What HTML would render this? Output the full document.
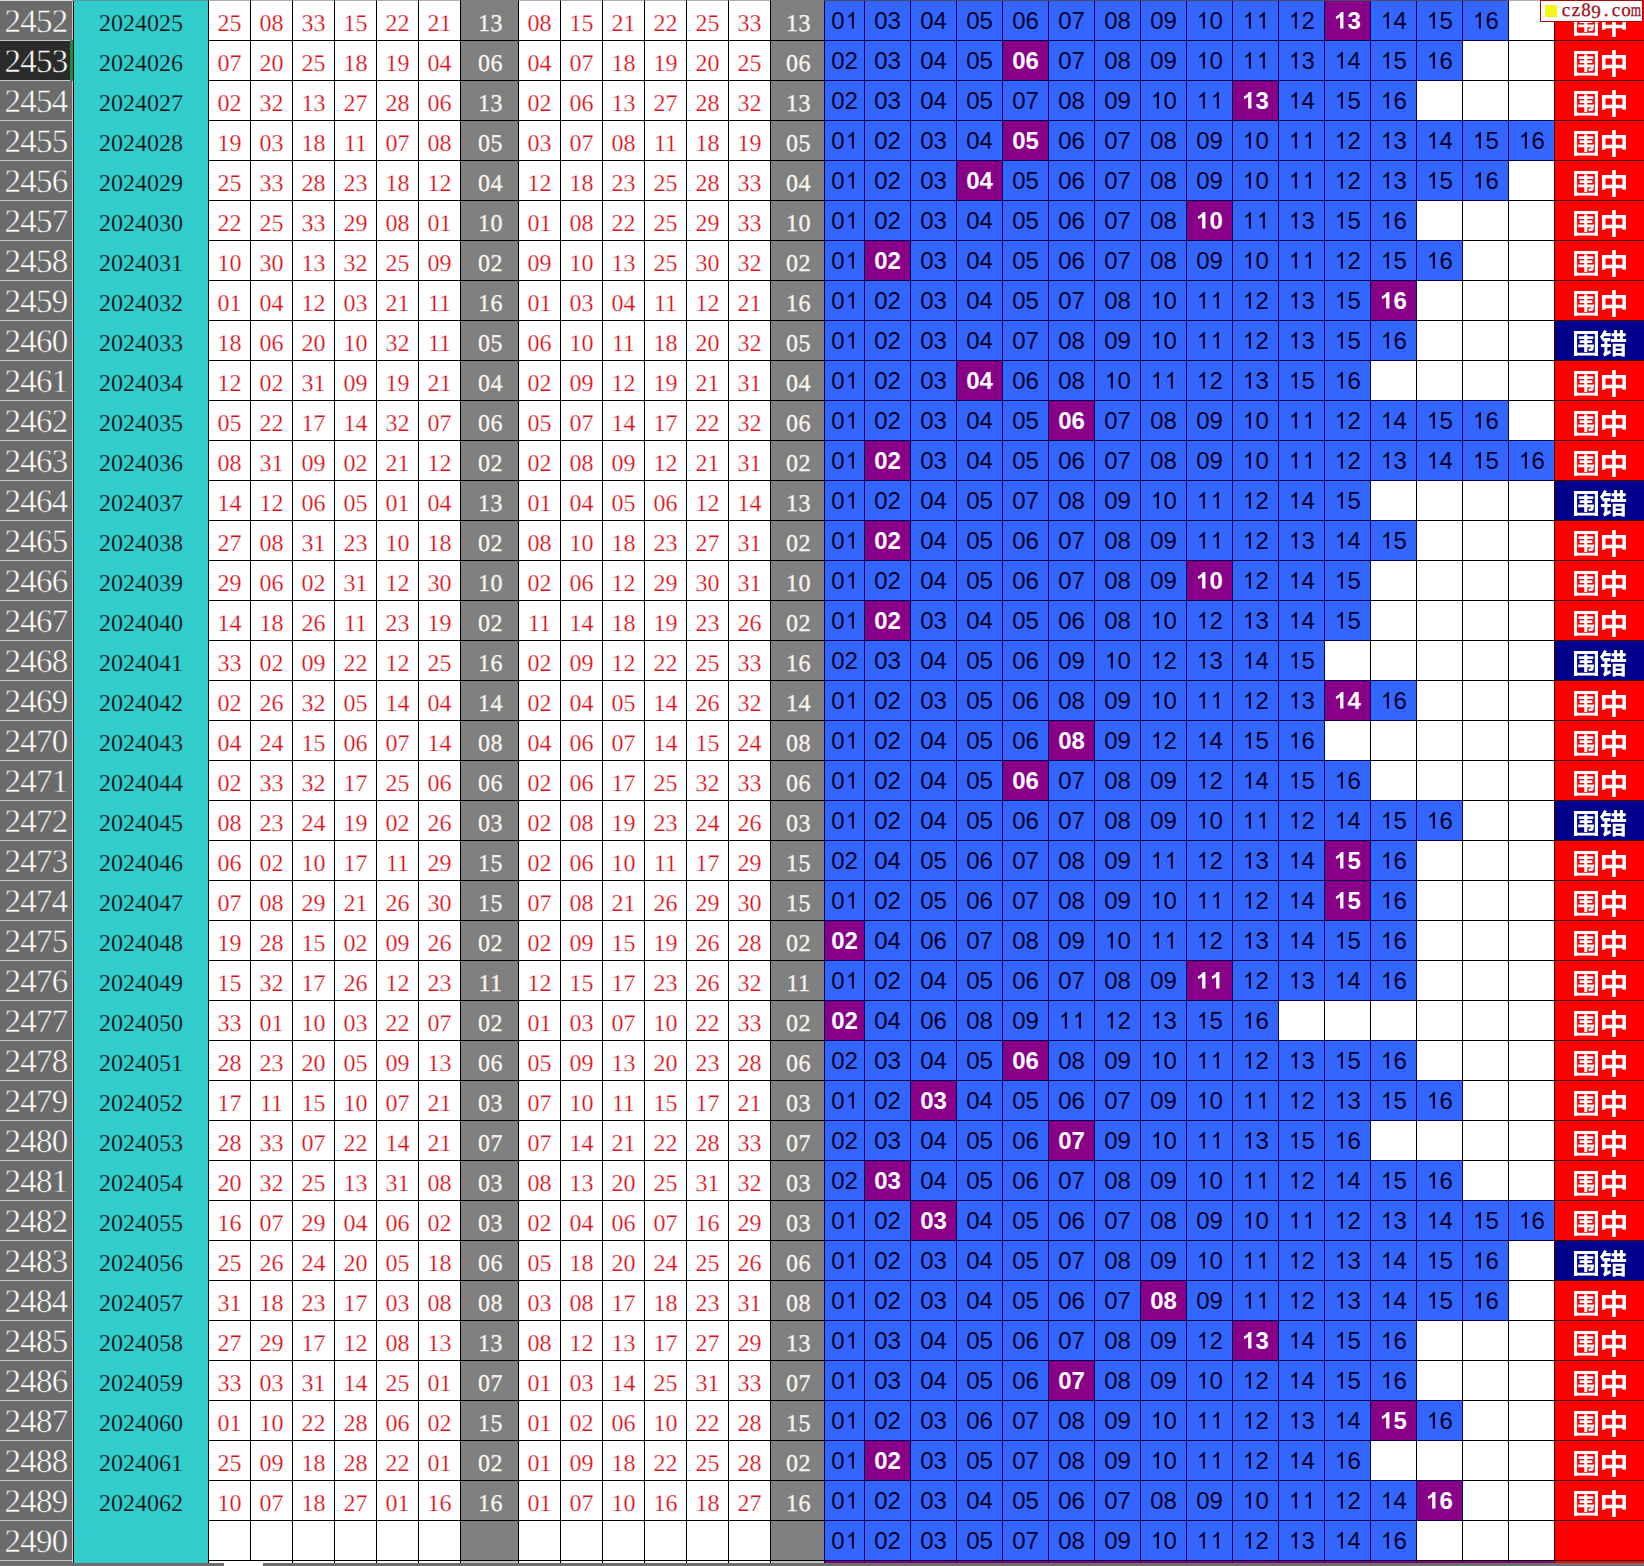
<!DOCTYPE html><html><head><meta charset="utf-8"><title>sheet</title><style>
*{margin:0;padding:0;box-sizing:border-box}
html,body{width:1644px;height:1566px;overflow:hidden;background:#fff}
#s{position:relative;width:1644px;height:1566px;overflow:hidden;background:#fff;font-family:"Liberation Serif",serif}
#s div,#s i,#s b,#s svg{position:absolute}
i,b{font-style:normal;font-weight:normal;display:block;text-align:center;white-space:nowrap;top:0;height:40px}
.r{left:0;width:1644px;height:40px}
.h{left:0;width:72px;height:40px;background:#6b6b6b;border-top:1px solid #c6c6c6;color:#fff;font-size:33px;line-height:43.6px;text-align:center;letter-spacing:-.7px;-webkit-text-stroke:.5px #6b6b6b}
.h u{display:block;text-decoration:none}
.h.sel{background:#2a2a2a;-webkit-text-stroke-color:#2a2a2a}
.h,.y,.n,.g{text-rendering:geometricPrecision}
.y{left:74px;width:134px;color:#000a0a;-webkit-text-stroke:.25px #33cccc;font-size:24px;line-height:48px}
.n{width:41px;color:#e00c16;-webkit-text-stroke:.22px #fff;font-size:24px;line-height:48px}
.g{color:#f8f4ec;padding-left:1.9px;letter-spacing:.5px;-webkit-text-stroke:.35px #f8f4ec;font-size:24px;line-height:48px}
.g1{left:461px;width:57px}
.g2{left:771px;width:53px}
.b{font-family:"Liberation Sans",sans-serif;font-size:24px;line-height:39.4px;color:#00002a;background:#3366ff;width:45px;top:1px;height:39px;box-shadow:0 0 0 1px #000050}
#s svg.o{position:static;width:.5562em;height:.6934em;fill:currentColor}
.p{background:#880088;color:#fff;font-weight:bold}
.z{left:1555px;width:89px;height:39px;top:1px;background:#ff0000;box-shadow:0 0 0 1px #3c0000}
.c{background:#00008b}
.wm{left:1561px;top:-1.4px;height:24px;font-size:19px;line-height:24px;color:#a01018;white-space:nowrap;-webkit-text-stroke:.3px #a01018;text-rendering:geometricPrecision}
.w{display:inline-block;width:10px;text-align:center}
.wmm{transform:scaleX(.7)}
.wmm{text-indent:-2.4px}
.w9{position:relative;top:2.8px}
.vl{top:0;width:1px;height:1563px;background:#000}
.hl{left:208px;width:1436px;height:1px;background:#000}
.a0{left:209px}.a1{left:251px}.a2{left:293px}.a3{left:335px}.a4{left:377px}.a5{left:419px}.a6{left:519px}.a7{left:561px}.a8{left:603px}.a9{left:645px}.a10{left:687px}.a11{left:729px}
.b0{left:825px;width:39px}.b1{left:865px}.b2{left:911px}.b3{left:957px}.b4{left:1003px}.b5{left:1049px}.b6{left:1095px}.b7{left:1141px}.b8{left:1187px}.b9{left:1233px}.b10{left:1279px}.b11{left:1325px}.b12{left:1371px}.b13{left:1417px}.b14{left:1463px}.b15{left:1509px}
</style></head><body><div id="s">
<svg width="0" height="0" style="left:0;top:0"><defs><symbol id="gw" viewBox="71 -816 860 905" preserveAspectRatio="none"><path transform="scale(1,-1)" d="M234 633V537H436V486H273V395H436V342H222V245H436V77H546V245H672C668 220 664 206 658 200C651 193 645 191 634 191C622 191 601 192 575 196C588 171 597 132 599 104C635 103 670 104 689 107C711 110 728 117 744 134C764 156 773 206 781 306C783 318 784 342 784 342H546V395H726V486H546V537H763V633H546V691H436V633ZM71 816V-89H182V-45H815V-89H931V816ZM182 54V712H815V54Z"/></symbol><symbol id="gz" viewBox="88 -850 826 939" preserveAspectRatio="none"><path transform="scale(1,-1)" d="M434 850V676H88V169H208V224H434V-89H561V224H788V174H914V676H561V850ZM208 342V558H434V342ZM788 342H561V558H788Z"/></symbol><symbol id="gc" viewBox="20 -850 946 938" preserveAspectRatio="none"><path transform="scale(1,-1)" d="M54 361V253H177V100C177 56 148 27 127 14C145 -10 169 -58 177 -86C196 -67 230 -48 410 45C402 70 393 117 391 149L286 99V253H410V361H286V459H390V566H127C143 585 158 606 172 628H403V741H234C246 766 256 791 265 816L164 847C133 759 80 675 20 619C38 593 65 532 73 507L105 540V459H177V361ZM732 850V734H633V850H526V734H436V630H526V534H414V427H966V534H840V630H941V734H840V850ZM633 630H732V534H633ZM584 111H796V44H584ZM584 206V273H796V206ZM476 370V-88H584V-52H796V-84H909V370Z"/></symbol><symbol id="o" viewBox="0 -1420 1139 1420"><path d="M763 0H583V-1100C530-1045 420-975 280-920V-1085C440-1160 570-1290 644-1415H763Z"/></symbol><symbol id="O" viewBox="0 -1420 1139 1420"><path d="M806 0H525V-1018Q371-879 162-813V-1058Q272-1093 401-1189Q530-1290 578-1415H806Z"/></symbol></defs></svg>
<div style="left:0;top:0;width:72px;height:1566px;background:#6b6b6b"></div>
<div style="left:72px;top:0;width:1px;height:1563px;background:#c6c6c6"></div>
<div style="left:73px;top:1px;width:1px;height:1562px;background:#000"></div>
<div style="left:74px;top:0;width:134px;height:1563px;background:#33cccc"></div>
<div style="left:461px;top:0;width:57px;height:1561px;background:#808080"></div>
<div style="left:771px;top:0;width:53px;height:1561px;background:#808080"></div>
<div style="left:461px;top:1561px;width:57px;height:2px;background:#c0c0c0"></div>
<div style="left:771px;top:1561px;width:53px;height:2px;background:#c0c0c0"></div>
<div style="left:825px;top:1561px;width:729px;height:2px;background:#800080"></div>
<div style="left:1555px;top:1560px;width:89px;height:3px;background:#ff0000"></div>
<div class="vl" style="left:208px"></div>
<div class="vl" style="left:250px"></div>
<div class="vl" style="left:292px"></div>
<div class="vl" style="left:334px"></div>
<div class="vl" style="left:376px"></div>
<div class="vl" style="left:418px"></div>
<div class="vl" style="left:460px"></div>
<div class="vl" style="left:518px"></div>
<div class="vl" style="left:560px"></div>
<div class="vl" style="left:602px"></div>
<div class="vl" style="left:644px"></div>
<div class="vl" style="left:686px"></div>
<div class="vl" style="left:728px"></div>
<div class="vl" style="left:770px"></div>
<div class="vl" style="left:824px"></div>
<div class="vl" style="left:864px"></div>
<div class="vl" style="left:910px"></div>
<div class="vl" style="left:956px"></div>
<div class="vl" style="left:1002px"></div>
<div class="vl" style="left:1048px"></div>
<div class="vl" style="left:1094px"></div>
<div class="vl" style="left:1140px"></div>
<div class="vl" style="left:1186px"></div>
<div class="vl" style="left:1232px"></div>
<div class="vl" style="left:1278px"></div>
<div class="vl" style="left:1324px"></div>
<div class="vl" style="left:1370px"></div>
<div class="vl" style="left:1416px"></div>
<div class="vl" style="left:1462px"></div>
<div class="vl" style="left:1508px"></div>
<div class="vl" style="left:1554px"></div>
<div class="hl" style="top:40px"></div>
<div class="hl" style="top:80px"></div>
<div class="hl" style="top:120px"></div>
<div class="hl" style="top:160px"></div>
<div class="hl" style="top:200px"></div>
<div class="hl" style="top:240px"></div>
<div class="hl" style="top:280px"></div>
<div class="hl" style="top:320px"></div>
<div class="hl" style="top:360px"></div>
<div class="hl" style="top:400px"></div>
<div class="hl" style="top:440px"></div>
<div class="hl" style="top:480px"></div>
<div class="hl" style="top:520px"></div>
<div class="hl" style="top:560px"></div>
<div class="hl" style="top:600px"></div>
<div class="hl" style="top:640px"></div>
<div class="hl" style="top:680px"></div>
<div class="hl" style="top:720px"></div>
<div class="hl" style="top:760px"></div>
<div class="hl" style="top:800px"></div>
<div class="hl" style="top:840px"></div>
<div class="hl" style="top:880px"></div>
<div class="hl" style="top:920px"></div>
<div class="hl" style="top:960px"></div>
<div class="hl" style="top:1000px"></div>
<div class="hl" style="top:1040px"></div>
<div class="hl" style="top:1080px"></div>
<div class="hl" style="top:1120px"></div>
<div class="hl" style="top:1160px"></div>
<div class="hl" style="top:1200px"></div>
<div class="hl" style="top:1240px"></div>
<div class="hl" style="top:1280px"></div>
<div class="hl" style="top:1320px"></div>
<div class="hl" style="top:1360px"></div>
<div class="hl" style="top:1400px"></div>
<div class="hl" style="top:1440px"></div>
<div class="hl" style="top:1480px"></div>
<div class="hl" style="top:1520px"></div>
<div class="hl" style="top:1560px"></div>
<div class="r" style="top:0px"><div class="h"><u>2452</u></div><i class="y">2024025</i><i class="n a0">25</i><i class="n a1">08</i><i class="n a2">33</i><i class="n a3">15</i><i class="n a4">22</i><i class="n a5">21</i><i class="n a6">08</i><i class="n a7">15</i><i class="n a8">21</i><i class="n a9">22</i><i class="n a10">25</i><i class="n a11">33</i><i class="g g1">13</i><i class="g g2">13</i><b class="b b0">0<svg class=o><use href=#o /></svg></b><b class="b b1">03</b><b class="b b2">04</b><b class="b b3">05</b><b class="b b4">06</b><b class="b b5">07</b><b class="b b6">08</b><b class="b b7">09</b><b class="b b8"><svg class=o><use href=#o /></svg>0</b><b class="b b9"><svg class=o><use href=#o /></svg><svg class=o><use href=#o /></svg></b><b class="b b10"><svg class=o><use href=#o /></svg>2</b><b class="b p b11"><svg class=o><use href=#O /></svg>3</b><b class="b b12"><svg class=o><use href=#o /></svg>4</b><b class="b b13"><svg class=o><use href=#o /></svg>5</b><b class="b b14"><svg class=o><use href=#o /></svg>6</b><div class="z"><svg style="left:19.1px;top:9.8px" width="24.1" height="25.7" fill="#fff"><use href="#gw" width="100%" height="100%"/></svg><svg style="left:46.5px;top:9.1px" width="24.1" height="27.3" fill="#fff"><use href="#gz" width="100%" height="100%"/></svg></div></div>
<div class="r" style="top:40px"><div class="h sel"><u>2453</u></div><i class="y">2024026</i><i class="n a0">07</i><i class="n a1">20</i><i class="n a2">25</i><i class="n a3">18</i><i class="n a4">19</i><i class="n a5">04</i><i class="n a6">04</i><i class="n a7">07</i><i class="n a8">18</i><i class="n a9">19</i><i class="n a10">20</i><i class="n a11">25</i><i class="g g1">06</i><i class="g g2">06</i><b class="b b0">02</b><b class="b b1">03</b><b class="b b2">04</b><b class="b b3">05</b><b class="b p b4">06</b><b class="b b5">07</b><b class="b b6">08</b><b class="b b7">09</b><b class="b b8"><svg class=o><use href=#o /></svg>0</b><b class="b b9"><svg class=o><use href=#o /></svg><svg class=o><use href=#o /></svg></b><b class="b b10"><svg class=o><use href=#o /></svg>3</b><b class="b b11"><svg class=o><use href=#o /></svg>4</b><b class="b b12"><svg class=o><use href=#o /></svg>5</b><b class="b b13"><svg class=o><use href=#o /></svg>6</b><div class="z"><svg style="left:19.1px;top:9.8px" width="24.1" height="25.7" fill="#fff"><use href="#gw" width="100%" height="100%"/></svg><svg style="left:46.5px;top:9.1px" width="24.1" height="27.3" fill="#fff"><use href="#gz" width="100%" height="100%"/></svg></div></div>
<div class="r" style="top:80px"><div class="h"><u>2454</u></div><i class="y">2024027</i><i class="n a0">02</i><i class="n a1">32</i><i class="n a2">13</i><i class="n a3">27</i><i class="n a4">28</i><i class="n a5">06</i><i class="n a6">02</i><i class="n a7">06</i><i class="n a8">13</i><i class="n a9">27</i><i class="n a10">28</i><i class="n a11">32</i><i class="g g1">13</i><i class="g g2">13</i><b class="b b0">02</b><b class="b b1">03</b><b class="b b2">04</b><b class="b b3">05</b><b class="b b4">07</b><b class="b b5">08</b><b class="b b6">09</b><b class="b b7"><svg class=o><use href=#o /></svg>0</b><b class="b b8"><svg class=o><use href=#o /></svg><svg class=o><use href=#o /></svg></b><b class="b p b9"><svg class=o><use href=#O /></svg>3</b><b class="b b10"><svg class=o><use href=#o /></svg>4</b><b class="b b11"><svg class=o><use href=#o /></svg>5</b><b class="b b12"><svg class=o><use href=#o /></svg>6</b><div class="z"><svg style="left:19.1px;top:9.8px" width="24.1" height="25.7" fill="#fff"><use href="#gw" width="100%" height="100%"/></svg><svg style="left:46.5px;top:9.1px" width="24.1" height="27.3" fill="#fff"><use href="#gz" width="100%" height="100%"/></svg></div></div>
<div class="r" style="top:120px"><div class="h"><u>2455</u></div><i class="y">2024028</i><i class="n a0">19</i><i class="n a1">03</i><i class="n a2">18</i><i class="n a3">11</i><i class="n a4">07</i><i class="n a5">08</i><i class="n a6">03</i><i class="n a7">07</i><i class="n a8">08</i><i class="n a9">11</i><i class="n a10">18</i><i class="n a11">19</i><i class="g g1">05</i><i class="g g2">05</i><b class="b b0">0<svg class=o><use href=#o /></svg></b><b class="b b1">02</b><b class="b b2">03</b><b class="b b3">04</b><b class="b p b4">05</b><b class="b b5">06</b><b class="b b6">07</b><b class="b b7">08</b><b class="b b8">09</b><b class="b b9"><svg class=o><use href=#o /></svg>0</b><b class="b b10"><svg class=o><use href=#o /></svg><svg class=o><use href=#o /></svg></b><b class="b b11"><svg class=o><use href=#o /></svg>2</b><b class="b b12"><svg class=o><use href=#o /></svg>3</b><b class="b b13"><svg class=o><use href=#o /></svg>4</b><b class="b b14"><svg class=o><use href=#o /></svg>5</b><b class="b b15"><svg class=o><use href=#o /></svg>6</b><div class="z"><svg style="left:19.1px;top:9.8px" width="24.1" height="25.7" fill="#fff"><use href="#gw" width="100%" height="100%"/></svg><svg style="left:46.5px;top:9.1px" width="24.1" height="27.3" fill="#fff"><use href="#gz" width="100%" height="100%"/></svg></div></div>
<div class="r" style="top:160px"><div class="h"><u>2456</u></div><i class="y">2024029</i><i class="n a0">25</i><i class="n a1">33</i><i class="n a2">28</i><i class="n a3">23</i><i class="n a4">18</i><i class="n a5">12</i><i class="n a6">12</i><i class="n a7">18</i><i class="n a8">23</i><i class="n a9">25</i><i class="n a10">28</i><i class="n a11">33</i><i class="g g1">04</i><i class="g g2">04</i><b class="b b0">0<svg class=o><use href=#o /></svg></b><b class="b b1">02</b><b class="b b2">03</b><b class="b p b3">04</b><b class="b b4">05</b><b class="b b5">06</b><b class="b b6">07</b><b class="b b7">08</b><b class="b b8">09</b><b class="b b9"><svg class=o><use href=#o /></svg>0</b><b class="b b10"><svg class=o><use href=#o /></svg><svg class=o><use href=#o /></svg></b><b class="b b11"><svg class=o><use href=#o /></svg>2</b><b class="b b12"><svg class=o><use href=#o /></svg>3</b><b class="b b13"><svg class=o><use href=#o /></svg>5</b><b class="b b14"><svg class=o><use href=#o /></svg>6</b><div class="z"><svg style="left:19.1px;top:9.8px" width="24.1" height="25.7" fill="#fff"><use href="#gw" width="100%" height="100%"/></svg><svg style="left:46.5px;top:9.1px" width="24.1" height="27.3" fill="#fff"><use href="#gz" width="100%" height="100%"/></svg></div></div>
<div class="r" style="top:200px"><div class="h"><u>2457</u></div><i class="y">2024030</i><i class="n a0">22</i><i class="n a1">25</i><i class="n a2">33</i><i class="n a3">29</i><i class="n a4">08</i><i class="n a5">01</i><i class="n a6">01</i><i class="n a7">08</i><i class="n a8">22</i><i class="n a9">25</i><i class="n a10">29</i><i class="n a11">33</i><i class="g g1">10</i><i class="g g2">10</i><b class="b b0">0<svg class=o><use href=#o /></svg></b><b class="b b1">02</b><b class="b b2">03</b><b class="b b3">04</b><b class="b b4">05</b><b class="b b5">06</b><b class="b b6">07</b><b class="b b7">08</b><b class="b p b8"><svg class=o><use href=#O /></svg>0</b><b class="b b9"><svg class=o><use href=#o /></svg><svg class=o><use href=#o /></svg></b><b class="b b10"><svg class=o><use href=#o /></svg>3</b><b class="b b11"><svg class=o><use href=#o /></svg>5</b><b class="b b12"><svg class=o><use href=#o /></svg>6</b><div class="z"><svg style="left:19.1px;top:9.8px" width="24.1" height="25.7" fill="#fff"><use href="#gw" width="100%" height="100%"/></svg><svg style="left:46.5px;top:9.1px" width="24.1" height="27.3" fill="#fff"><use href="#gz" width="100%" height="100%"/></svg></div></div>
<div class="r" style="top:240px"><div class="h"><u>2458</u></div><i class="y">2024031</i><i class="n a0">10</i><i class="n a1">30</i><i class="n a2">13</i><i class="n a3">32</i><i class="n a4">25</i><i class="n a5">09</i><i class="n a6">09</i><i class="n a7">10</i><i class="n a8">13</i><i class="n a9">25</i><i class="n a10">30</i><i class="n a11">32</i><i class="g g1">02</i><i class="g g2">02</i><b class="b b0">0<svg class=o><use href=#o /></svg></b><b class="b p b1">02</b><b class="b b2">03</b><b class="b b3">04</b><b class="b b4">05</b><b class="b b5">06</b><b class="b b6">07</b><b class="b b7">08</b><b class="b b8">09</b><b class="b b9"><svg class=o><use href=#o /></svg>0</b><b class="b b10"><svg class=o><use href=#o /></svg><svg class=o><use href=#o /></svg></b><b class="b b11"><svg class=o><use href=#o /></svg>2</b><b class="b b12"><svg class=o><use href=#o /></svg>5</b><b class="b b13"><svg class=o><use href=#o /></svg>6</b><div class="z"><svg style="left:19.1px;top:9.8px" width="24.1" height="25.7" fill="#fff"><use href="#gw" width="100%" height="100%"/></svg><svg style="left:46.5px;top:9.1px" width="24.1" height="27.3" fill="#fff"><use href="#gz" width="100%" height="100%"/></svg></div></div>
<div class="r" style="top:280px"><div class="h"><u>2459</u></div><i class="y">2024032</i><i class="n a0">01</i><i class="n a1">04</i><i class="n a2">12</i><i class="n a3">03</i><i class="n a4">21</i><i class="n a5">11</i><i class="n a6">01</i><i class="n a7">03</i><i class="n a8">04</i><i class="n a9">11</i><i class="n a10">12</i><i class="n a11">21</i><i class="g g1">16</i><i class="g g2">16</i><b class="b b0">0<svg class=o><use href=#o /></svg></b><b class="b b1">02</b><b class="b b2">03</b><b class="b b3">04</b><b class="b b4">05</b><b class="b b5">07</b><b class="b b6">08</b><b class="b b7"><svg class=o><use href=#o /></svg>0</b><b class="b b8"><svg class=o><use href=#o /></svg><svg class=o><use href=#o /></svg></b><b class="b b9"><svg class=o><use href=#o /></svg>2</b><b class="b b10"><svg class=o><use href=#o /></svg>3</b><b class="b b11"><svg class=o><use href=#o /></svg>5</b><b class="b p b12"><svg class=o><use href=#O /></svg>6</b><div class="z"><svg style="left:19.1px;top:9.8px" width="24.1" height="25.7" fill="#fff"><use href="#gw" width="100%" height="100%"/></svg><svg style="left:46.5px;top:9.1px" width="24.1" height="27.3" fill="#fff"><use href="#gz" width="100%" height="100%"/></svg></div></div>
<div class="r" style="top:320px"><div class="h"><u>2460</u></div><i class="y">2024033</i><i class="n a0">18</i><i class="n a1">06</i><i class="n a2">20</i><i class="n a3">10</i><i class="n a4">32</i><i class="n a5">11</i><i class="n a6">06</i><i class="n a7">10</i><i class="n a8">11</i><i class="n a9">18</i><i class="n a10">20</i><i class="n a11">32</i><i class="g g1">05</i><i class="g g2">05</i><b class="b b0">0<svg class=o><use href=#o /></svg></b><b class="b b1">02</b><b class="b b2">03</b><b class="b b3">04</b><b class="b b4">07</b><b class="b b5">08</b><b class="b b6">09</b><b class="b b7"><svg class=o><use href=#o /></svg>0</b><b class="b b8"><svg class=o><use href=#o /></svg><svg class=o><use href=#o /></svg></b><b class="b b9"><svg class=o><use href=#o /></svg>2</b><b class="b b10"><svg class=o><use href=#o /></svg>3</b><b class="b b11"><svg class=o><use href=#o /></svg>5</b><b class="b b12"><svg class=o><use href=#o /></svg>6</b><div class="z c"><svg style="left:19.1px;top:9.8px" width="24.1" height="25.7" fill="#fff"><use href="#gw" width="100%" height="100%"/></svg><svg style="left:45.3px;top:9.1px" width="26.4" height="26.8" fill="#fff"><use href="#gc" width="100%" height="100%"/></svg></div></div>
<div class="r" style="top:360px"><div class="h"><u>2461</u></div><i class="y">2024034</i><i class="n a0">12</i><i class="n a1">02</i><i class="n a2">31</i><i class="n a3">09</i><i class="n a4">19</i><i class="n a5">21</i><i class="n a6">02</i><i class="n a7">09</i><i class="n a8">12</i><i class="n a9">19</i><i class="n a10">21</i><i class="n a11">31</i><i class="g g1">04</i><i class="g g2">04</i><b class="b b0">0<svg class=o><use href=#o /></svg></b><b class="b b1">02</b><b class="b b2">03</b><b class="b p b3">04</b><b class="b b4">06</b><b class="b b5">08</b><b class="b b6"><svg class=o><use href=#o /></svg>0</b><b class="b b7"><svg class=o><use href=#o /></svg><svg class=o><use href=#o /></svg></b><b class="b b8"><svg class=o><use href=#o /></svg>2</b><b class="b b9"><svg class=o><use href=#o /></svg>3</b><b class="b b10"><svg class=o><use href=#o /></svg>5</b><b class="b b11"><svg class=o><use href=#o /></svg>6</b><div class="z"><svg style="left:19.1px;top:9.8px" width="24.1" height="25.7" fill="#fff"><use href="#gw" width="100%" height="100%"/></svg><svg style="left:46.5px;top:9.1px" width="24.1" height="27.3" fill="#fff"><use href="#gz" width="100%" height="100%"/></svg></div></div>
<div class="r" style="top:400px"><div class="h"><u>2462</u></div><i class="y">2024035</i><i class="n a0">05</i><i class="n a1">22</i><i class="n a2">17</i><i class="n a3">14</i><i class="n a4">32</i><i class="n a5">07</i><i class="n a6">05</i><i class="n a7">07</i><i class="n a8">14</i><i class="n a9">17</i><i class="n a10">22</i><i class="n a11">32</i><i class="g g1">06</i><i class="g g2">06</i><b class="b b0">0<svg class=o><use href=#o /></svg></b><b class="b b1">02</b><b class="b b2">03</b><b class="b b3">04</b><b class="b b4">05</b><b class="b p b5">06</b><b class="b b6">07</b><b class="b b7">08</b><b class="b b8">09</b><b class="b b9"><svg class=o><use href=#o /></svg>0</b><b class="b b10"><svg class=o><use href=#o /></svg><svg class=o><use href=#o /></svg></b><b class="b b11"><svg class=o><use href=#o /></svg>2</b><b class="b b12"><svg class=o><use href=#o /></svg>4</b><b class="b b13"><svg class=o><use href=#o /></svg>5</b><b class="b b14"><svg class=o><use href=#o /></svg>6</b><div class="z"><svg style="left:19.1px;top:9.8px" width="24.1" height="25.7" fill="#fff"><use href="#gw" width="100%" height="100%"/></svg><svg style="left:46.5px;top:9.1px" width="24.1" height="27.3" fill="#fff"><use href="#gz" width="100%" height="100%"/></svg></div></div>
<div class="r" style="top:440px"><div class="h"><u>2463</u></div><i class="y">2024036</i><i class="n a0">08</i><i class="n a1">31</i><i class="n a2">09</i><i class="n a3">02</i><i class="n a4">21</i><i class="n a5">12</i><i class="n a6">02</i><i class="n a7">08</i><i class="n a8">09</i><i class="n a9">12</i><i class="n a10">21</i><i class="n a11">31</i><i class="g g1">02</i><i class="g g2">02</i><b class="b b0">0<svg class=o><use href=#o /></svg></b><b class="b p b1">02</b><b class="b b2">03</b><b class="b b3">04</b><b class="b b4">05</b><b class="b b5">06</b><b class="b b6">07</b><b class="b b7">08</b><b class="b b8">09</b><b class="b b9"><svg class=o><use href=#o /></svg>0</b><b class="b b10"><svg class=o><use href=#o /></svg><svg class=o><use href=#o /></svg></b><b class="b b11"><svg class=o><use href=#o /></svg>2</b><b class="b b12"><svg class=o><use href=#o /></svg>3</b><b class="b b13"><svg class=o><use href=#o /></svg>4</b><b class="b b14"><svg class=o><use href=#o /></svg>5</b><b class="b b15"><svg class=o><use href=#o /></svg>6</b><div class="z"><svg style="left:19.1px;top:9.8px" width="24.1" height="25.7" fill="#fff"><use href="#gw" width="100%" height="100%"/></svg><svg style="left:46.5px;top:9.1px" width="24.1" height="27.3" fill="#fff"><use href="#gz" width="100%" height="100%"/></svg></div></div>
<div class="r" style="top:480px"><div class="h"><u>2464</u></div><i class="y">2024037</i><i class="n a0">14</i><i class="n a1">12</i><i class="n a2">06</i><i class="n a3">05</i><i class="n a4">01</i><i class="n a5">04</i><i class="n a6">01</i><i class="n a7">04</i><i class="n a8">05</i><i class="n a9">06</i><i class="n a10">12</i><i class="n a11">14</i><i class="g g1">13</i><i class="g g2">13</i><b class="b b0">0<svg class=o><use href=#o /></svg></b><b class="b b1">02</b><b class="b b2">04</b><b class="b b3">05</b><b class="b b4">07</b><b class="b b5">08</b><b class="b b6">09</b><b class="b b7"><svg class=o><use href=#o /></svg>0</b><b class="b b8"><svg class=o><use href=#o /></svg><svg class=o><use href=#o /></svg></b><b class="b b9"><svg class=o><use href=#o /></svg>2</b><b class="b b10"><svg class=o><use href=#o /></svg>4</b><b class="b b11"><svg class=o><use href=#o /></svg>5</b><div class="z c"><svg style="left:19.1px;top:9.8px" width="24.1" height="25.7" fill="#fff"><use href="#gw" width="100%" height="100%"/></svg><svg style="left:45.3px;top:9.1px" width="26.4" height="26.8" fill="#fff"><use href="#gc" width="100%" height="100%"/></svg></div></div>
<div class="r" style="top:520px"><div class="h"><u>2465</u></div><i class="y">2024038</i><i class="n a0">27</i><i class="n a1">08</i><i class="n a2">31</i><i class="n a3">23</i><i class="n a4">10</i><i class="n a5">18</i><i class="n a6">08</i><i class="n a7">10</i><i class="n a8">18</i><i class="n a9">23</i><i class="n a10">27</i><i class="n a11">31</i><i class="g g1">02</i><i class="g g2">02</i><b class="b b0">0<svg class=o><use href=#o /></svg></b><b class="b p b1">02</b><b class="b b2">04</b><b class="b b3">05</b><b class="b b4">06</b><b class="b b5">07</b><b class="b b6">08</b><b class="b b7">09</b><b class="b b8"><svg class=o><use href=#o /></svg><svg class=o><use href=#o /></svg></b><b class="b b9"><svg class=o><use href=#o /></svg>2</b><b class="b b10"><svg class=o><use href=#o /></svg>3</b><b class="b b11"><svg class=o><use href=#o /></svg>4</b><b class="b b12"><svg class=o><use href=#o /></svg>5</b><div class="z"><svg style="left:19.1px;top:9.8px" width="24.1" height="25.7" fill="#fff"><use href="#gw" width="100%" height="100%"/></svg><svg style="left:46.5px;top:9.1px" width="24.1" height="27.3" fill="#fff"><use href="#gz" width="100%" height="100%"/></svg></div></div>
<div class="r" style="top:560px"><div class="h"><u>2466</u></div><i class="y">2024039</i><i class="n a0">29</i><i class="n a1">06</i><i class="n a2">02</i><i class="n a3">31</i><i class="n a4">12</i><i class="n a5">30</i><i class="n a6">02</i><i class="n a7">06</i><i class="n a8">12</i><i class="n a9">29</i><i class="n a10">30</i><i class="n a11">31</i><i class="g g1">10</i><i class="g g2">10</i><b class="b b0">0<svg class=o><use href=#o /></svg></b><b class="b b1">02</b><b class="b b2">04</b><b class="b b3">05</b><b class="b b4">06</b><b class="b b5">07</b><b class="b b6">08</b><b class="b b7">09</b><b class="b p b8"><svg class=o><use href=#O /></svg>0</b><b class="b b9"><svg class=o><use href=#o /></svg>2</b><b class="b b10"><svg class=o><use href=#o /></svg>4</b><b class="b b11"><svg class=o><use href=#o /></svg>5</b><div class="z"><svg style="left:19.1px;top:9.8px" width="24.1" height="25.7" fill="#fff"><use href="#gw" width="100%" height="100%"/></svg><svg style="left:46.5px;top:9.1px" width="24.1" height="27.3" fill="#fff"><use href="#gz" width="100%" height="100%"/></svg></div></div>
<div class="r" style="top:600px"><div class="h"><u>2467</u></div><i class="y">2024040</i><i class="n a0">14</i><i class="n a1">18</i><i class="n a2">26</i><i class="n a3">11</i><i class="n a4">23</i><i class="n a5">19</i><i class="n a6">11</i><i class="n a7">14</i><i class="n a8">18</i><i class="n a9">19</i><i class="n a10">23</i><i class="n a11">26</i><i class="g g1">02</i><i class="g g2">02</i><b class="b b0">0<svg class=o><use href=#o /></svg></b><b class="b p b1">02</b><b class="b b2">03</b><b class="b b3">04</b><b class="b b4">05</b><b class="b b5">06</b><b class="b b6">08</b><b class="b b7"><svg class=o><use href=#o /></svg>0</b><b class="b b8"><svg class=o><use href=#o /></svg>2</b><b class="b b9"><svg class=o><use href=#o /></svg>3</b><b class="b b10"><svg class=o><use href=#o /></svg>4</b><b class="b b11"><svg class=o><use href=#o /></svg>5</b><div class="z"><svg style="left:19.1px;top:9.8px" width="24.1" height="25.7" fill="#fff"><use href="#gw" width="100%" height="100%"/></svg><svg style="left:46.5px;top:9.1px" width="24.1" height="27.3" fill="#fff"><use href="#gz" width="100%" height="100%"/></svg></div></div>
<div class="r" style="top:640px"><div class="h"><u>2468</u></div><i class="y">2024041</i><i class="n a0">33</i><i class="n a1">02</i><i class="n a2">09</i><i class="n a3">22</i><i class="n a4">12</i><i class="n a5">25</i><i class="n a6">02</i><i class="n a7">09</i><i class="n a8">12</i><i class="n a9">22</i><i class="n a10">25</i><i class="n a11">33</i><i class="g g1">16</i><i class="g g2">16</i><b class="b b0">02</b><b class="b b1">03</b><b class="b b2">04</b><b class="b b3">05</b><b class="b b4">06</b><b class="b b5">09</b><b class="b b6"><svg class=o><use href=#o /></svg>0</b><b class="b b7"><svg class=o><use href=#o /></svg>2</b><b class="b b8"><svg class=o><use href=#o /></svg>3</b><b class="b b9"><svg class=o><use href=#o /></svg>4</b><b class="b b10"><svg class=o><use href=#o /></svg>5</b><div class="z c"><svg style="left:19.1px;top:9.8px" width="24.1" height="25.7" fill="#fff"><use href="#gw" width="100%" height="100%"/></svg><svg style="left:45.3px;top:9.1px" width="26.4" height="26.8" fill="#fff"><use href="#gc" width="100%" height="100%"/></svg></div></div>
<div class="r" style="top:680px"><div class="h"><u>2469</u></div><i class="y">2024042</i><i class="n a0">02</i><i class="n a1">26</i><i class="n a2">32</i><i class="n a3">05</i><i class="n a4">14</i><i class="n a5">04</i><i class="n a6">02</i><i class="n a7">04</i><i class="n a8">05</i><i class="n a9">14</i><i class="n a10">26</i><i class="n a11">32</i><i class="g g1">14</i><i class="g g2">14</i><b class="b b0">0<svg class=o><use href=#o /></svg></b><b class="b b1">02</b><b class="b b2">03</b><b class="b b3">05</b><b class="b b4">06</b><b class="b b5">08</b><b class="b b6">09</b><b class="b b7"><svg class=o><use href=#o /></svg>0</b><b class="b b8"><svg class=o><use href=#o /></svg><svg class=o><use href=#o /></svg></b><b class="b b9"><svg class=o><use href=#o /></svg>2</b><b class="b b10"><svg class=o><use href=#o /></svg>3</b><b class="b p b11"><svg class=o><use href=#O /></svg>4</b><b class="b b12"><svg class=o><use href=#o /></svg>6</b><div class="z"><svg style="left:19.1px;top:9.8px" width="24.1" height="25.7" fill="#fff"><use href="#gw" width="100%" height="100%"/></svg><svg style="left:46.5px;top:9.1px" width="24.1" height="27.3" fill="#fff"><use href="#gz" width="100%" height="100%"/></svg></div></div>
<div class="r" style="top:720px"><div class="h"><u>2470</u></div><i class="y">2024043</i><i class="n a0">04</i><i class="n a1">24</i><i class="n a2">15</i><i class="n a3">06</i><i class="n a4">07</i><i class="n a5">14</i><i class="n a6">04</i><i class="n a7">06</i><i class="n a8">07</i><i class="n a9">14</i><i class="n a10">15</i><i class="n a11">24</i><i class="g g1">08</i><i class="g g2">08</i><b class="b b0">0<svg class=o><use href=#o /></svg></b><b class="b b1">02</b><b class="b b2">04</b><b class="b b3">05</b><b class="b b4">06</b><b class="b p b5">08</b><b class="b b6">09</b><b class="b b7"><svg class=o><use href=#o /></svg>2</b><b class="b b8"><svg class=o><use href=#o /></svg>4</b><b class="b b9"><svg class=o><use href=#o /></svg>5</b><b class="b b10"><svg class=o><use href=#o /></svg>6</b><div class="z"><svg style="left:19.1px;top:9.8px" width="24.1" height="25.7" fill="#fff"><use href="#gw" width="100%" height="100%"/></svg><svg style="left:46.5px;top:9.1px" width="24.1" height="27.3" fill="#fff"><use href="#gz" width="100%" height="100%"/></svg></div></div>
<div class="r" style="top:760px"><div class="h"><u>2471</u></div><i class="y">2024044</i><i class="n a0">02</i><i class="n a1">33</i><i class="n a2">32</i><i class="n a3">17</i><i class="n a4">25</i><i class="n a5">06</i><i class="n a6">02</i><i class="n a7">06</i><i class="n a8">17</i><i class="n a9">25</i><i class="n a10">32</i><i class="n a11">33</i><i class="g g1">06</i><i class="g g2">06</i><b class="b b0">0<svg class=o><use href=#o /></svg></b><b class="b b1">02</b><b class="b b2">04</b><b class="b b3">05</b><b class="b p b4">06</b><b class="b b5">07</b><b class="b b6">08</b><b class="b b7">09</b><b class="b b8"><svg class=o><use href=#o /></svg>2</b><b class="b b9"><svg class=o><use href=#o /></svg>4</b><b class="b b10"><svg class=o><use href=#o /></svg>5</b><b class="b b11"><svg class=o><use href=#o /></svg>6</b><div class="z"><svg style="left:19.1px;top:9.8px" width="24.1" height="25.7" fill="#fff"><use href="#gw" width="100%" height="100%"/></svg><svg style="left:46.5px;top:9.1px" width="24.1" height="27.3" fill="#fff"><use href="#gz" width="100%" height="100%"/></svg></div></div>
<div class="r" style="top:800px"><div class="h"><u>2472</u></div><i class="y">2024045</i><i class="n a0">08</i><i class="n a1">23</i><i class="n a2">24</i><i class="n a3">19</i><i class="n a4">02</i><i class="n a5">26</i><i class="n a6">02</i><i class="n a7">08</i><i class="n a8">19</i><i class="n a9">23</i><i class="n a10">24</i><i class="n a11">26</i><i class="g g1">03</i><i class="g g2">03</i><b class="b b0">0<svg class=o><use href=#o /></svg></b><b class="b b1">02</b><b class="b b2">04</b><b class="b b3">05</b><b class="b b4">06</b><b class="b b5">07</b><b class="b b6">08</b><b class="b b7">09</b><b class="b b8"><svg class=o><use href=#o /></svg>0</b><b class="b b9"><svg class=o><use href=#o /></svg><svg class=o><use href=#o /></svg></b><b class="b b10"><svg class=o><use href=#o /></svg>2</b><b class="b b11"><svg class=o><use href=#o /></svg>4</b><b class="b b12"><svg class=o><use href=#o /></svg>5</b><b class="b b13"><svg class=o><use href=#o /></svg>6</b><div class="z c"><svg style="left:19.1px;top:9.8px" width="24.1" height="25.7" fill="#fff"><use href="#gw" width="100%" height="100%"/></svg><svg style="left:45.3px;top:9.1px" width="26.4" height="26.8" fill="#fff"><use href="#gc" width="100%" height="100%"/></svg></div></div>
<div class="r" style="top:840px"><div class="h"><u>2473</u></div><i class="y">2024046</i><i class="n a0">06</i><i class="n a1">02</i><i class="n a2">10</i><i class="n a3">17</i><i class="n a4">11</i><i class="n a5">29</i><i class="n a6">02</i><i class="n a7">06</i><i class="n a8">10</i><i class="n a9">11</i><i class="n a10">17</i><i class="n a11">29</i><i class="g g1">15</i><i class="g g2">15</i><b class="b b0">02</b><b class="b b1">04</b><b class="b b2">05</b><b class="b b3">06</b><b class="b b4">07</b><b class="b b5">08</b><b class="b b6">09</b><b class="b b7"><svg class=o><use href=#o /></svg><svg class=o><use href=#o /></svg></b><b class="b b8"><svg class=o><use href=#o /></svg>2</b><b class="b b9"><svg class=o><use href=#o /></svg>3</b><b class="b b10"><svg class=o><use href=#o /></svg>4</b><b class="b p b11"><svg class=o><use href=#O /></svg>5</b><b class="b b12"><svg class=o><use href=#o /></svg>6</b><div class="z"><svg style="left:19.1px;top:9.8px" width="24.1" height="25.7" fill="#fff"><use href="#gw" width="100%" height="100%"/></svg><svg style="left:46.5px;top:9.1px" width="24.1" height="27.3" fill="#fff"><use href="#gz" width="100%" height="100%"/></svg></div></div>
<div class="r" style="top:880px"><div class="h"><u>2474</u></div><i class="y">2024047</i><i class="n a0">07</i><i class="n a1">08</i><i class="n a2">29</i><i class="n a3">21</i><i class="n a4">26</i><i class="n a5">30</i><i class="n a6">07</i><i class="n a7">08</i><i class="n a8">21</i><i class="n a9">26</i><i class="n a10">29</i><i class="n a11">30</i><i class="g g1">15</i><i class="g g2">15</i><b class="b b0">0<svg class=o><use href=#o /></svg></b><b class="b b1">02</b><b class="b b2">05</b><b class="b b3">06</b><b class="b b4">07</b><b class="b b5">08</b><b class="b b6">09</b><b class="b b7"><svg class=o><use href=#o /></svg>0</b><b class="b b8"><svg class=o><use href=#o /></svg><svg class=o><use href=#o /></svg></b><b class="b b9"><svg class=o><use href=#o /></svg>2</b><b class="b b10"><svg class=o><use href=#o /></svg>4</b><b class="b p b11"><svg class=o><use href=#O /></svg>5</b><b class="b b12"><svg class=o><use href=#o /></svg>6</b><div class="z"><svg style="left:19.1px;top:9.8px" width="24.1" height="25.7" fill="#fff"><use href="#gw" width="100%" height="100%"/></svg><svg style="left:46.5px;top:9.1px" width="24.1" height="27.3" fill="#fff"><use href="#gz" width="100%" height="100%"/></svg></div></div>
<div class="r" style="top:920px"><div class="h"><u>2475</u></div><i class="y">2024048</i><i class="n a0">19</i><i class="n a1">28</i><i class="n a2">15</i><i class="n a3">02</i><i class="n a4">09</i><i class="n a5">26</i><i class="n a6">02</i><i class="n a7">09</i><i class="n a8">15</i><i class="n a9">19</i><i class="n a10">26</i><i class="n a11">28</i><i class="g g1">02</i><i class="g g2">02</i><b class="b p b0">02</b><b class="b b1">04</b><b class="b b2">06</b><b class="b b3">07</b><b class="b b4">08</b><b class="b b5">09</b><b class="b b6"><svg class=o><use href=#o /></svg>0</b><b class="b b7"><svg class=o><use href=#o /></svg><svg class=o><use href=#o /></svg></b><b class="b b8"><svg class=o><use href=#o /></svg>2</b><b class="b b9"><svg class=o><use href=#o /></svg>3</b><b class="b b10"><svg class=o><use href=#o /></svg>4</b><b class="b b11"><svg class=o><use href=#o /></svg>5</b><b class="b b12"><svg class=o><use href=#o /></svg>6</b><div class="z"><svg style="left:19.1px;top:9.8px" width="24.1" height="25.7" fill="#fff"><use href="#gw" width="100%" height="100%"/></svg><svg style="left:46.5px;top:9.1px" width="24.1" height="27.3" fill="#fff"><use href="#gz" width="100%" height="100%"/></svg></div></div>
<div class="r" style="top:960px"><div class="h"><u>2476</u></div><i class="y">2024049</i><i class="n a0">15</i><i class="n a1">32</i><i class="n a2">17</i><i class="n a3">26</i><i class="n a4">12</i><i class="n a5">23</i><i class="n a6">12</i><i class="n a7">15</i><i class="n a8">17</i><i class="n a9">23</i><i class="n a10">26</i><i class="n a11">32</i><i class="g g1">11</i><i class="g g2">11</i><b class="b b0">0<svg class=o><use href=#o /></svg></b><b class="b b1">02</b><b class="b b2">04</b><b class="b b3">05</b><b class="b b4">06</b><b class="b b5">07</b><b class="b b6">08</b><b class="b b7">09</b><b class="b p b8"><svg class=o><use href=#O /></svg><svg class=o><use href=#O /></svg></b><b class="b b9"><svg class=o><use href=#o /></svg>2</b><b class="b b10"><svg class=o><use href=#o /></svg>3</b><b class="b b11"><svg class=o><use href=#o /></svg>4</b><b class="b b12"><svg class=o><use href=#o /></svg>6</b><div class="z"><svg style="left:19.1px;top:9.8px" width="24.1" height="25.7" fill="#fff"><use href="#gw" width="100%" height="100%"/></svg><svg style="left:46.5px;top:9.1px" width="24.1" height="27.3" fill="#fff"><use href="#gz" width="100%" height="100%"/></svg></div></div>
<div class="r" style="top:1000px"><div class="h"><u>2477</u></div><i class="y">2024050</i><i class="n a0">33</i><i class="n a1">01</i><i class="n a2">10</i><i class="n a3">03</i><i class="n a4">22</i><i class="n a5">07</i><i class="n a6">01</i><i class="n a7">03</i><i class="n a8">07</i><i class="n a9">10</i><i class="n a10">22</i><i class="n a11">33</i><i class="g g1">02</i><i class="g g2">02</i><b class="b p b0">02</b><b class="b b1">04</b><b class="b b2">06</b><b class="b b3">08</b><b class="b b4">09</b><b class="b b5"><svg class=o><use href=#o /></svg><svg class=o><use href=#o /></svg></b><b class="b b6"><svg class=o><use href=#o /></svg>2</b><b class="b b7"><svg class=o><use href=#o /></svg>3</b><b class="b b8"><svg class=o><use href=#o /></svg>5</b><b class="b b9"><svg class=o><use href=#o /></svg>6</b><div class="z"><svg style="left:19.1px;top:9.8px" width="24.1" height="25.7" fill="#fff"><use href="#gw" width="100%" height="100%"/></svg><svg style="left:46.5px;top:9.1px" width="24.1" height="27.3" fill="#fff"><use href="#gz" width="100%" height="100%"/></svg></div></div>
<div class="r" style="top:1040px"><div class="h"><u>2478</u></div><i class="y">2024051</i><i class="n a0">28</i><i class="n a1">23</i><i class="n a2">20</i><i class="n a3">05</i><i class="n a4">09</i><i class="n a5">13</i><i class="n a6">05</i><i class="n a7">09</i><i class="n a8">13</i><i class="n a9">20</i><i class="n a10">23</i><i class="n a11">28</i><i class="g g1">06</i><i class="g g2">06</i><b class="b b0">02</b><b class="b b1">03</b><b class="b b2">04</b><b class="b b3">05</b><b class="b p b4">06</b><b class="b b5">08</b><b class="b b6">09</b><b class="b b7"><svg class=o><use href=#o /></svg>0</b><b class="b b8"><svg class=o><use href=#o /></svg><svg class=o><use href=#o /></svg></b><b class="b b9"><svg class=o><use href=#o /></svg>2</b><b class="b b10"><svg class=o><use href=#o /></svg>3</b><b class="b b11"><svg class=o><use href=#o /></svg>5</b><b class="b b12"><svg class=o><use href=#o /></svg>6</b><div class="z"><svg style="left:19.1px;top:9.8px" width="24.1" height="25.7" fill="#fff"><use href="#gw" width="100%" height="100%"/></svg><svg style="left:46.5px;top:9.1px" width="24.1" height="27.3" fill="#fff"><use href="#gz" width="100%" height="100%"/></svg></div></div>
<div class="r" style="top:1080px"><div class="h"><u>2479</u></div><i class="y">2024052</i><i class="n a0">17</i><i class="n a1">11</i><i class="n a2">15</i><i class="n a3">10</i><i class="n a4">07</i><i class="n a5">21</i><i class="n a6">07</i><i class="n a7">10</i><i class="n a8">11</i><i class="n a9">15</i><i class="n a10">17</i><i class="n a11">21</i><i class="g g1">03</i><i class="g g2">03</i><b class="b b0">0<svg class=o><use href=#o /></svg></b><b class="b b1">02</b><b class="b p b2">03</b><b class="b b3">04</b><b class="b b4">05</b><b class="b b5">06</b><b class="b b6">07</b><b class="b b7">09</b><b class="b b8"><svg class=o><use href=#o /></svg>0</b><b class="b b9"><svg class=o><use href=#o /></svg><svg class=o><use href=#o /></svg></b><b class="b b10"><svg class=o><use href=#o /></svg>2</b><b class="b b11"><svg class=o><use href=#o /></svg>3</b><b class="b b12"><svg class=o><use href=#o /></svg>5</b><b class="b b13"><svg class=o><use href=#o /></svg>6</b><div class="z"><svg style="left:19.1px;top:9.8px" width="24.1" height="25.7" fill="#fff"><use href="#gw" width="100%" height="100%"/></svg><svg style="left:46.5px;top:9.1px" width="24.1" height="27.3" fill="#fff"><use href="#gz" width="100%" height="100%"/></svg></div></div>
<div class="r" style="top:1120px"><div class="h"><u>2480</u></div><i class="y">2024053</i><i class="n a0">28</i><i class="n a1">33</i><i class="n a2">07</i><i class="n a3">22</i><i class="n a4">14</i><i class="n a5">21</i><i class="n a6">07</i><i class="n a7">14</i><i class="n a8">21</i><i class="n a9">22</i><i class="n a10">28</i><i class="n a11">33</i><i class="g g1">07</i><i class="g g2">07</i><b class="b b0">02</b><b class="b b1">03</b><b class="b b2">04</b><b class="b b3">05</b><b class="b b4">06</b><b class="b p b5">07</b><b class="b b6">09</b><b class="b b7"><svg class=o><use href=#o /></svg>0</b><b class="b b8"><svg class=o><use href=#o /></svg><svg class=o><use href=#o /></svg></b><b class="b b9"><svg class=o><use href=#o /></svg>3</b><b class="b b10"><svg class=o><use href=#o /></svg>5</b><b class="b b11"><svg class=o><use href=#o /></svg>6</b><div class="z"><svg style="left:19.1px;top:9.8px" width="24.1" height="25.7" fill="#fff"><use href="#gw" width="100%" height="100%"/></svg><svg style="left:46.5px;top:9.1px" width="24.1" height="27.3" fill="#fff"><use href="#gz" width="100%" height="100%"/></svg></div></div>
<div class="r" style="top:1160px"><div class="h"><u>2481</u></div><i class="y">2024054</i><i class="n a0">20</i><i class="n a1">32</i><i class="n a2">25</i><i class="n a3">13</i><i class="n a4">31</i><i class="n a5">08</i><i class="n a6">08</i><i class="n a7">13</i><i class="n a8">20</i><i class="n a9">25</i><i class="n a10">31</i><i class="n a11">32</i><i class="g g1">03</i><i class="g g2">03</i><b class="b b0">02</b><b class="b p b1">03</b><b class="b b2">04</b><b class="b b3">05</b><b class="b b4">06</b><b class="b b5">07</b><b class="b b6">08</b><b class="b b7">09</b><b class="b b8"><svg class=o><use href=#o /></svg>0</b><b class="b b9"><svg class=o><use href=#o /></svg><svg class=o><use href=#o /></svg></b><b class="b b10"><svg class=o><use href=#o /></svg>2</b><b class="b b11"><svg class=o><use href=#o /></svg>4</b><b class="b b12"><svg class=o><use href=#o /></svg>5</b><b class="b b13"><svg class=o><use href=#o /></svg>6</b><div class="z"><svg style="left:19.1px;top:9.8px" width="24.1" height="25.7" fill="#fff"><use href="#gw" width="100%" height="100%"/></svg><svg style="left:46.5px;top:9.1px" width="24.1" height="27.3" fill="#fff"><use href="#gz" width="100%" height="100%"/></svg></div></div>
<div class="r" style="top:1200px"><div class="h"><u>2482</u></div><i class="y">2024055</i><i class="n a0">16</i><i class="n a1">07</i><i class="n a2">29</i><i class="n a3">04</i><i class="n a4">06</i><i class="n a5">02</i><i class="n a6">02</i><i class="n a7">04</i><i class="n a8">06</i><i class="n a9">07</i><i class="n a10">16</i><i class="n a11">29</i><i class="g g1">03</i><i class="g g2">03</i><b class="b b0">0<svg class=o><use href=#o /></svg></b><b class="b b1">02</b><b class="b p b2">03</b><b class="b b3">04</b><b class="b b4">05</b><b class="b b5">06</b><b class="b b6">07</b><b class="b b7">08</b><b class="b b8">09</b><b class="b b9"><svg class=o><use href=#o /></svg>0</b><b class="b b10"><svg class=o><use href=#o /></svg><svg class=o><use href=#o /></svg></b><b class="b b11"><svg class=o><use href=#o /></svg>2</b><b class="b b12"><svg class=o><use href=#o /></svg>3</b><b class="b b13"><svg class=o><use href=#o /></svg>4</b><b class="b b14"><svg class=o><use href=#o /></svg>5</b><b class="b b15"><svg class=o><use href=#o /></svg>6</b><div class="z"><svg style="left:19.1px;top:9.8px" width="24.1" height="25.7" fill="#fff"><use href="#gw" width="100%" height="100%"/></svg><svg style="left:46.5px;top:9.1px" width="24.1" height="27.3" fill="#fff"><use href="#gz" width="100%" height="100%"/></svg></div></div>
<div class="r" style="top:1240px"><div class="h"><u>2483</u></div><i class="y">2024056</i><i class="n a0">25</i><i class="n a1">26</i><i class="n a2">24</i><i class="n a3">20</i><i class="n a4">05</i><i class="n a5">18</i><i class="n a6">05</i><i class="n a7">18</i><i class="n a8">20</i><i class="n a9">24</i><i class="n a10">25</i><i class="n a11">26</i><i class="g g1">06</i><i class="g g2">06</i><b class="b b0">0<svg class=o><use href=#o /></svg></b><b class="b b1">02</b><b class="b b2">03</b><b class="b b3">04</b><b class="b b4">05</b><b class="b b5">07</b><b class="b b6">08</b><b class="b b7">09</b><b class="b b8"><svg class=o><use href=#o /></svg>0</b><b class="b b9"><svg class=o><use href=#o /></svg><svg class=o><use href=#o /></svg></b><b class="b b10"><svg class=o><use href=#o /></svg>2</b><b class="b b11"><svg class=o><use href=#o /></svg>3</b><b class="b b12"><svg class=o><use href=#o /></svg>4</b><b class="b b13"><svg class=o><use href=#o /></svg>5</b><b class="b b14"><svg class=o><use href=#o /></svg>6</b><div class="z c"><svg style="left:19.1px;top:9.8px" width="24.1" height="25.7" fill="#fff"><use href="#gw" width="100%" height="100%"/></svg><svg style="left:45.3px;top:9.1px" width="26.4" height="26.8" fill="#fff"><use href="#gc" width="100%" height="100%"/></svg></div></div>
<div class="r" style="top:1280px"><div class="h"><u>2484</u></div><i class="y">2024057</i><i class="n a0">31</i><i class="n a1">18</i><i class="n a2">23</i><i class="n a3">17</i><i class="n a4">03</i><i class="n a5">08</i><i class="n a6">03</i><i class="n a7">08</i><i class="n a8">17</i><i class="n a9">18</i><i class="n a10">23</i><i class="n a11">31</i><i class="g g1">08</i><i class="g g2">08</i><b class="b b0">0<svg class=o><use href=#o /></svg></b><b class="b b1">02</b><b class="b b2">03</b><b class="b b3">04</b><b class="b b4">05</b><b class="b b5">06</b><b class="b b6">07</b><b class="b p b7">08</b><b class="b b8">09</b><b class="b b9"><svg class=o><use href=#o /></svg><svg class=o><use href=#o /></svg></b><b class="b b10"><svg class=o><use href=#o /></svg>2</b><b class="b b11"><svg class=o><use href=#o /></svg>3</b><b class="b b12"><svg class=o><use href=#o /></svg>4</b><b class="b b13"><svg class=o><use href=#o /></svg>5</b><b class="b b14"><svg class=o><use href=#o /></svg>6</b><div class="z"><svg style="left:19.1px;top:9.8px" width="24.1" height="25.7" fill="#fff"><use href="#gw" width="100%" height="100%"/></svg><svg style="left:46.5px;top:9.1px" width="24.1" height="27.3" fill="#fff"><use href="#gz" width="100%" height="100%"/></svg></div></div>
<div class="r" style="top:1320px"><div class="h"><u>2485</u></div><i class="y">2024058</i><i class="n a0">27</i><i class="n a1">29</i><i class="n a2">17</i><i class="n a3">12</i><i class="n a4">08</i><i class="n a5">13</i><i class="n a6">08</i><i class="n a7">12</i><i class="n a8">13</i><i class="n a9">17</i><i class="n a10">27</i><i class="n a11">29</i><i class="g g1">13</i><i class="g g2">13</i><b class="b b0">0<svg class=o><use href=#o /></svg></b><b class="b b1">03</b><b class="b b2">04</b><b class="b b3">05</b><b class="b b4">06</b><b class="b b5">07</b><b class="b b6">08</b><b class="b b7">09</b><b class="b b8"><svg class=o><use href=#o /></svg>2</b><b class="b p b9"><svg class=o><use href=#O /></svg>3</b><b class="b b10"><svg class=o><use href=#o /></svg>4</b><b class="b b11"><svg class=o><use href=#o /></svg>5</b><b class="b b12"><svg class=o><use href=#o /></svg>6</b><div class="z"><svg style="left:19.1px;top:9.8px" width="24.1" height="25.7" fill="#fff"><use href="#gw" width="100%" height="100%"/></svg><svg style="left:46.5px;top:9.1px" width="24.1" height="27.3" fill="#fff"><use href="#gz" width="100%" height="100%"/></svg></div></div>
<div class="r" style="top:1360px"><div class="h"><u>2486</u></div><i class="y">2024059</i><i class="n a0">33</i><i class="n a1">03</i><i class="n a2">31</i><i class="n a3">14</i><i class="n a4">25</i><i class="n a5">01</i><i class="n a6">01</i><i class="n a7">03</i><i class="n a8">14</i><i class="n a9">25</i><i class="n a10">31</i><i class="n a11">33</i><i class="g g1">07</i><i class="g g2">07</i><b class="b b0">0<svg class=o><use href=#o /></svg></b><b class="b b1">03</b><b class="b b2">04</b><b class="b b3">05</b><b class="b b4">06</b><b class="b p b5">07</b><b class="b b6">08</b><b class="b b7">09</b><b class="b b8"><svg class=o><use href=#o /></svg>0</b><b class="b b9"><svg class=o><use href=#o /></svg>2</b><b class="b b10"><svg class=o><use href=#o /></svg>4</b><b class="b b11"><svg class=o><use href=#o /></svg>5</b><b class="b b12"><svg class=o><use href=#o /></svg>6</b><div class="z"><svg style="left:19.1px;top:9.8px" width="24.1" height="25.7" fill="#fff"><use href="#gw" width="100%" height="100%"/></svg><svg style="left:46.5px;top:9.1px" width="24.1" height="27.3" fill="#fff"><use href="#gz" width="100%" height="100%"/></svg></div></div>
<div class="r" style="top:1400px"><div class="h"><u>2487</u></div><i class="y">2024060</i><i class="n a0">01</i><i class="n a1">10</i><i class="n a2">22</i><i class="n a3">28</i><i class="n a4">06</i><i class="n a5">02</i><i class="n a6">01</i><i class="n a7">02</i><i class="n a8">06</i><i class="n a9">10</i><i class="n a10">22</i><i class="n a11">28</i><i class="g g1">15</i><i class="g g2">15</i><b class="b b0">0<svg class=o><use href=#o /></svg></b><b class="b b1">02</b><b class="b b2">03</b><b class="b b3">06</b><b class="b b4">07</b><b class="b b5">08</b><b class="b b6">09</b><b class="b b7"><svg class=o><use href=#o /></svg>0</b><b class="b b8"><svg class=o><use href=#o /></svg><svg class=o><use href=#o /></svg></b><b class="b b9"><svg class=o><use href=#o /></svg>2</b><b class="b b10"><svg class=o><use href=#o /></svg>3</b><b class="b b11"><svg class=o><use href=#o /></svg>4</b><b class="b p b12"><svg class=o><use href=#O /></svg>5</b><b class="b b13"><svg class=o><use href=#o /></svg>6</b><div class="z"><svg style="left:19.1px;top:9.8px" width="24.1" height="25.7" fill="#fff"><use href="#gw" width="100%" height="100%"/></svg><svg style="left:46.5px;top:9.1px" width="24.1" height="27.3" fill="#fff"><use href="#gz" width="100%" height="100%"/></svg></div></div>
<div class="r" style="top:1440px"><div class="h"><u>2488</u></div><i class="y">2024061</i><i class="n a0">25</i><i class="n a1">09</i><i class="n a2">18</i><i class="n a3">28</i><i class="n a4">22</i><i class="n a5">01</i><i class="n a6">01</i><i class="n a7">09</i><i class="n a8">18</i><i class="n a9">22</i><i class="n a10">25</i><i class="n a11">28</i><i class="g g1">02</i><i class="g g2">02</i><b class="b b0">0<svg class=o><use href=#o /></svg></b><b class="b p b1">02</b><b class="b b2">03</b><b class="b b3">05</b><b class="b b4">07</b><b class="b b5">08</b><b class="b b6">09</b><b class="b b7"><svg class=o><use href=#o /></svg>0</b><b class="b b8"><svg class=o><use href=#o /></svg><svg class=o><use href=#o /></svg></b><b class="b b9"><svg class=o><use href=#o /></svg>2</b><b class="b b10"><svg class=o><use href=#o /></svg>4</b><b class="b b11"><svg class=o><use href=#o /></svg>6</b><div class="z"><svg style="left:19.1px;top:9.8px" width="24.1" height="25.7" fill="#fff"><use href="#gw" width="100%" height="100%"/></svg><svg style="left:46.5px;top:9.1px" width="24.1" height="27.3" fill="#fff"><use href="#gz" width="100%" height="100%"/></svg></div></div>
<div class="r" style="top:1480px"><div class="h"><u>2489</u></div><i class="y">2024062</i><i class="n a0">10</i><i class="n a1">07</i><i class="n a2">18</i><i class="n a3">27</i><i class="n a4">01</i><i class="n a5">16</i><i class="n a6">01</i><i class="n a7">07</i><i class="n a8">10</i><i class="n a9">16</i><i class="n a10">18</i><i class="n a11">27</i><i class="g g1">16</i><i class="g g2">16</i><b class="b b0">0<svg class=o><use href=#o /></svg></b><b class="b b1">02</b><b class="b b2">03</b><b class="b b3">04</b><b class="b b4">05</b><b class="b b5">06</b><b class="b b6">07</b><b class="b b7">08</b><b class="b b8">09</b><b class="b b9"><svg class=o><use href=#o /></svg>0</b><b class="b b10"><svg class=o><use href=#o /></svg><svg class=o><use href=#o /></svg></b><b class="b b11"><svg class=o><use href=#o /></svg>2</b><b class="b b12"><svg class=o><use href=#o /></svg>4</b><b class="b p b13"><svg class=o><use href=#O /></svg>6</b><div class="z"><svg style="left:19.1px;top:9.8px" width="24.1" height="25.7" fill="#fff"><use href="#gw" width="100%" height="100%"/></svg><svg style="left:46.5px;top:9.1px" width="24.1" height="27.3" fill="#fff"><use href="#gz" width="100%" height="100%"/></svg></div></div>
<div class="r" style="top:1520px"><div class="h"><u>2490</u></div><b class="b b0">0<svg class=o><use href=#o /></svg></b><b class="b b1">02</b><b class="b b2">03</b><b class="b b3">05</b><b class="b b4">07</b><b class="b b5">08</b><b class="b b6">09</b><b class="b b7"><svg class=o><use href=#o /></svg>0</b><b class="b b8"><svg class=o><use href=#o /></svg><svg class=o><use href=#o /></svg></b><b class="b b9"><svg class=o><use href=#o /></svg>2</b><b class="b b10"><svg class=o><use href=#o /></svg>3</b><b class="b b11"><svg class=o><use href=#o /></svg>4</b><b class="b b12"><svg class=o><use href=#o /></svg>6</b><div class="z"></div></div>
<div style="left:70px;top:40px;width:3px;height:41px;background:#1f8a4c"></div>
<div style="left:0;top:0;width:72px;height:1px;background:#dcdcdc"></div>
<div style="left:72px;top:0;width:1572px;height:1px;background:rgba(120,120,120,.6)"></div>
<div style="left:0;top:1560px;width:72px;height:1px;background:#c6c6c6"></div>
<div style="left:0;top:1563px;width:224px;height:3px;background:#6e6e6e"></div>
<div style="left:224px;top:1561px;width:39px;height:5px;background:#fff"></div>
<div style="left:263px;top:1563px;width:1381px;height:3px;background:#6e6e6e"></div>
<div style="left:1540px;top:0;width:103px;height:22px;background:#fff;border:1px solid #a80808"></div>
<div style="left:1545px;top:5px;width:12px;height:12px;background:#f6f61c;border-radius:1px"></div>
<div class="wm"><span class="w">c</span><span class="w">z</span><span class="w">8</span><span class="w w9">9</span><span class="w">.</span><span class="w">c</span><span class="w">o</span><span class="w wmm">m</span></div>
</div></body></html>
